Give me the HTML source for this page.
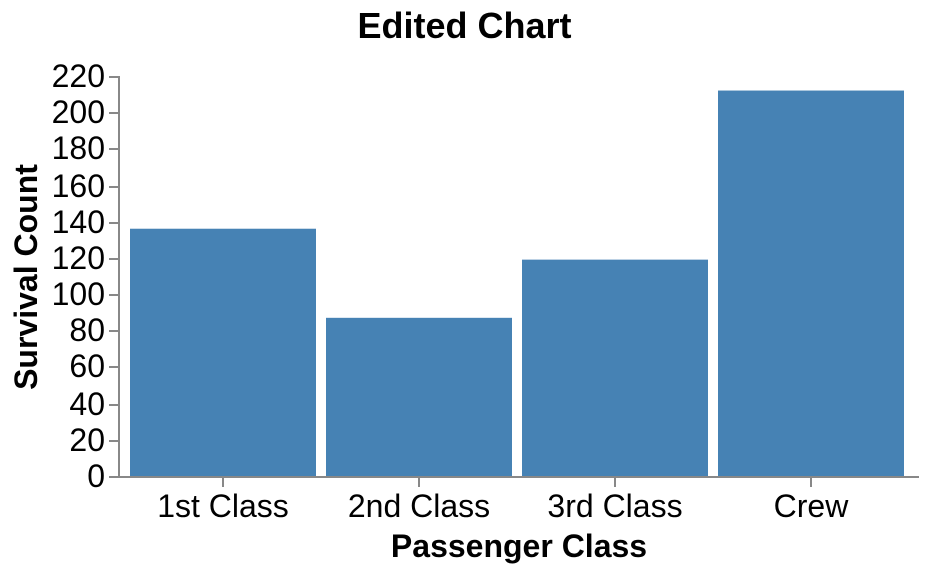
<!DOCTYPE html>
<html lang="en">
<head>
<meta charset="utf-8">
<title>Edited Chart</title>
<style>
  html, body { margin: 0; padding: 0; background: #fff; }
  svg { display: block; font-family: "Liberation Sans", Arial, sans-serif; }
  text { fill: #000; }
</style>
</head>
<body>
<svg id="chart" width="928" height="572" viewBox="0 0 928 572" xmlns="http://www.w3.org/2000/svg">
  <rect x="0" y="0" width="928" height="572" fill="#ffffff"></rect>
  <text x="464.5" y="38" text-anchor="middle" font-size="36" font-weight="bold">Edited Chart</text>
  <g id="bars"></g>
  <g id="y-axis"></g>
  <g id="x-axis"></g>
  <text transform="translate(37 277) rotate(-90)" text-anchor="middle" font-size="32" font-weight="bold">Survival Count</text>
  <text x="519" y="557" text-anchor="middle" font-size="32" font-weight="bold">Passenger Class</text>
</svg>
<script>
const categories = ["1st Class", "2nd Class", "3rd Class", "Crew"];
const survivalCounts = [136, 87, 119, 212];
const yTicks = [0, 20, 40, 60, 80, 100, 120, 140, 160, 180, 200, 220];

const NS = "http://www.w3.org/2000/svg";
const plotLeft = 118, plotTop = 76, plotWidth = 800, plotHeight = 400;
const yMax = 220;
const bandStart = 12, bandStep = 196, bandWidth = 186;

function yScale(v) { return plotTop + plotHeight * (1 - v / yMax); }
function yTickPos(v) { return plotTop + 1 + 2 * Math.round(plotHeight / 2 * (1 - v / yMax)); }
function xBand(i) { return plotLeft + bandStart + i * bandStep; }
function xCenter(i) { return xBand(i) + bandWidth / 2; }

function make(tag, attrs, parent) {
  const el = document.createElementNS(NS, tag);
  for (const k in attrs) el.setAttribute(k, attrs[k]);
  parent.appendChild(el);
  return el;
}

const barsG = document.getElementById("bars");
const yG = document.getElementById("y-axis");
const xG = document.getElementById("x-axis");
const axisColor = "#888888";

categories.forEach(function (cat, i) {
  const top = yScale(survivalCounts[i]);
  const bar = make("rect", { x: xBand(i), y: top, width: bandWidth, height: yScale(0) - top, fill: "#4682b4" }, barsG);
  
  
});

const yLine = make("line", { x1: plotLeft + 1, x2: plotLeft + 1, y1: yTickPos(yMax) - 1, y2: yTickPos(0) + 1, stroke: axisColor, "stroke-width": 2 }, yG);



yTicks.forEach(function (v) {
  const p = yTickPos(v);
  const tick = make("line", { x1: plotLeft - 9, x2: plotLeft + 1, y1: p, y2: p, stroke: axisColor, "stroke-width": 2 }, yG);
  
  
  const label = make("text", { x: 105, y: p + 10, "text-anchor": "end", "font-size": 32 }, yG);
  
  
  label.textContent = String(v);
});

const xLine = make("line", { x1: plotLeft, x2: plotLeft + plotWidth + 1, y1: yTickPos(0), y2: yTickPos(0), stroke: axisColor, "stroke-width": 2 }, xG);



categories.forEach(function (cat, i) {
  const c = xCenter(i);
  const tick = make("line", { x1: c, x2: c, y1: yTickPos(0), y2: yTickPos(0) + 10, stroke: axisColor, "stroke-width": 2 }, xG);
  
  
  const label = make("text", { x: c, y: 517, "text-anchor": "middle", "font-size": 32 }, xG);
  
  
  label.textContent = cat;
});
</script>
</body>
</html>
